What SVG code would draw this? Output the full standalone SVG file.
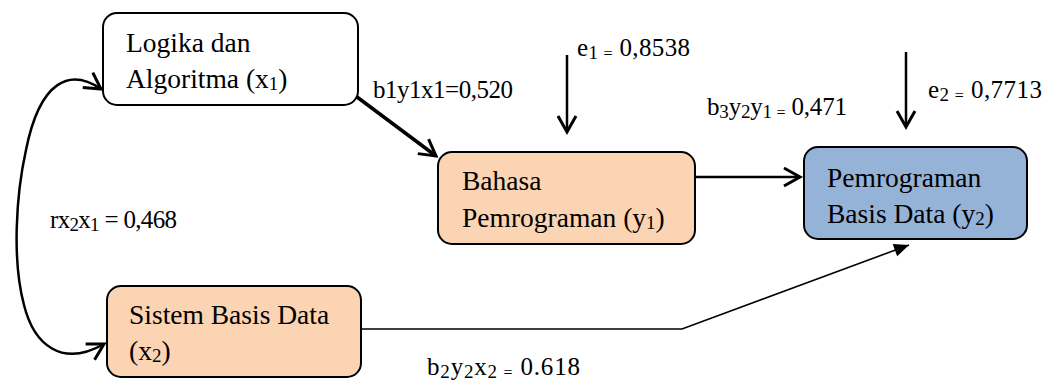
<svg xmlns="http://www.w3.org/2000/svg" width="1044" height="381" viewBox="0 0 1044 381">
<style>
.node{stroke:#000;stroke-width:2}
.nt{font-family:"Liberation Serif","Times New Roman",serif;font-size:27.5px;fill:#000}
.lb{font-family:"Liberation Serif","Times New Roman",serif;font-size:25px;fill:#000}
.sub{font-size:19px}
.sm{font-size:16px}
.conn{fill:none;stroke:#000}
</style>
<defs>
<marker id="open" markerUnits="userSpaceOnUse" viewBox="-20 -12 24 24" markerWidth="24" markerHeight="24" refX="0" refY="0" orient="auto-start-reverse">
<path d="M-16,-9 L0,0 L-16,9" fill="none" stroke="#000" stroke-width="3" stroke-linejoin="miter"/>
</marker>
<marker id="filled" markerUnits="userSpaceOnUse" viewBox="-16 -8 18 16" markerWidth="18" markerHeight="16" refX="0" refY="0" orient="auto">
<path d="M-15,-6.5 L0,0 L-15,6.5 Z" fill="#000"/>
</marker>
</defs>
<g id="connectors">
<path class="conn" stroke-width="2.5" d="M101,89 C70,68 40,80 26,150 C16,195 12,260 24,305 C34,345 62,368 104,344" marker-start="url(#open)" marker-end="url(#open)"/>
<line class="conn" stroke-width="3.5" x1="357" y1="97" x2="436" y2="156" marker-end="url(#open)"/>
<line class="conn" stroke-width="2.5" x1="567" y1="55" x2="567" y2="132" marker-end="url(#open)"/>
<line class="conn" stroke-width="2.5" x1="695" y1="177" x2="800" y2="177" marker-end="url(#open)"/>
<line class="conn" stroke-width="2.5" x1="906" y1="52" x2="906" y2="127" marker-end="url(#open)"/>
<polyline class="conn" stroke-width="1.6" points="361,329 682,329 909,245" marker-end="url(#filled)"/>
</g>
<g id="node-logika">
<rect class="node" x="103" y="13" width="255" height="92" rx="14" fill="#fff"/>
<text class="nt" x="126" y="52">Logika dan</text>
<text class="nt" x="126" y="88">Algoritma (x<tspan class="sub" dy="2">1</tspan><tspan dy="-2">)</tspan></text>
</g>
<g id="node-bahasa">
<rect class="node" x="438" y="152" width="257" height="92" rx="14" fill="#FBD4B4"/>
<text class="nt" x="462" y="190">Bahasa</text>
<text class="nt" x="462" y="227">Pemrograman (y<tspan class="sub" dy="2">1</tspan><tspan dy="-2">)</tspan></text>
</g>
<g id="node-pbd">
<rect class="node" x="804" y="147" width="223" height="92" rx="14" fill="#95B3D7"/>
<text class="nt" x="827" y="187">Pemrograman</text>
<text class="nt" x="827" y="223">Basis Data (y<tspan class="sub" dy="2">2</tspan><tspan dy="-2">)</tspan></text>
</g>
<g id="node-sbd">
<rect class="node" x="107" y="286" width="254" height="91" rx="14" fill="#FBD4B4"/>
<text class="nt" x="129" y="324">Sistem Basis Data</text>
<text class="nt" x="129" y="360">(x<tspan class="sub" dy="2">2</tspan><tspan dy="-2">)</tspan></text>
</g>
<g id="labels">
<text class="lb" x="373" y="98" font-size="22" textLength="140" lengthAdjust="spacing">b1y1x1=0,520</text>
<text class="lb" x="577" y="56" textLength="113" lengthAdjust="spacing">e<tspan class="sub" dy="3">1 </tspan><tspan class="sm">=</tspan><tspan dy="-3"> 0,8538</tspan></text>
<text class="lb" x="928" y="98" textLength="114" lengthAdjust="spacing">e<tspan class="sub" dy="3">2 </tspan><tspan class="sm">=</tspan><tspan dy="-3"> 0,7713</tspan></text>
<text class="lb" x="707" y="115" textLength="140" lengthAdjust="spacing">b<tspan class="sub" dy="3">3</tspan><tspan dy="-3">y</tspan><tspan class="sub" dy="3">2</tspan><tspan dy="-3">y</tspan><tspan class="sub" dy="3">1 </tspan><tspan class="sm">=</tspan><tspan dy="-3"> 0,471</tspan></text>
<text class="lb" x="427" y="375" textLength="153" lengthAdjust="spacing">b<tspan class="sub" dy="3">2</tspan><tspan dy="-3">y</tspan><tspan class="sub" dy="3">2</tspan><tspan dy="-3">x</tspan><tspan class="sub" dy="3">2 </tspan><tspan class="sm">=</tspan><tspan dy="-3"> 0.618</tspan></text>
<text class="lb" x="50" y="228" font-size="24" textLength="127" lengthAdjust="spacing">rx<tspan class="sub" dy="3">2</tspan><tspan dy="-3">x</tspan><tspan class="sub" dy="3">1</tspan><tspan dy="-3"> = 0,468</tspan></text>
</g>
</svg>
